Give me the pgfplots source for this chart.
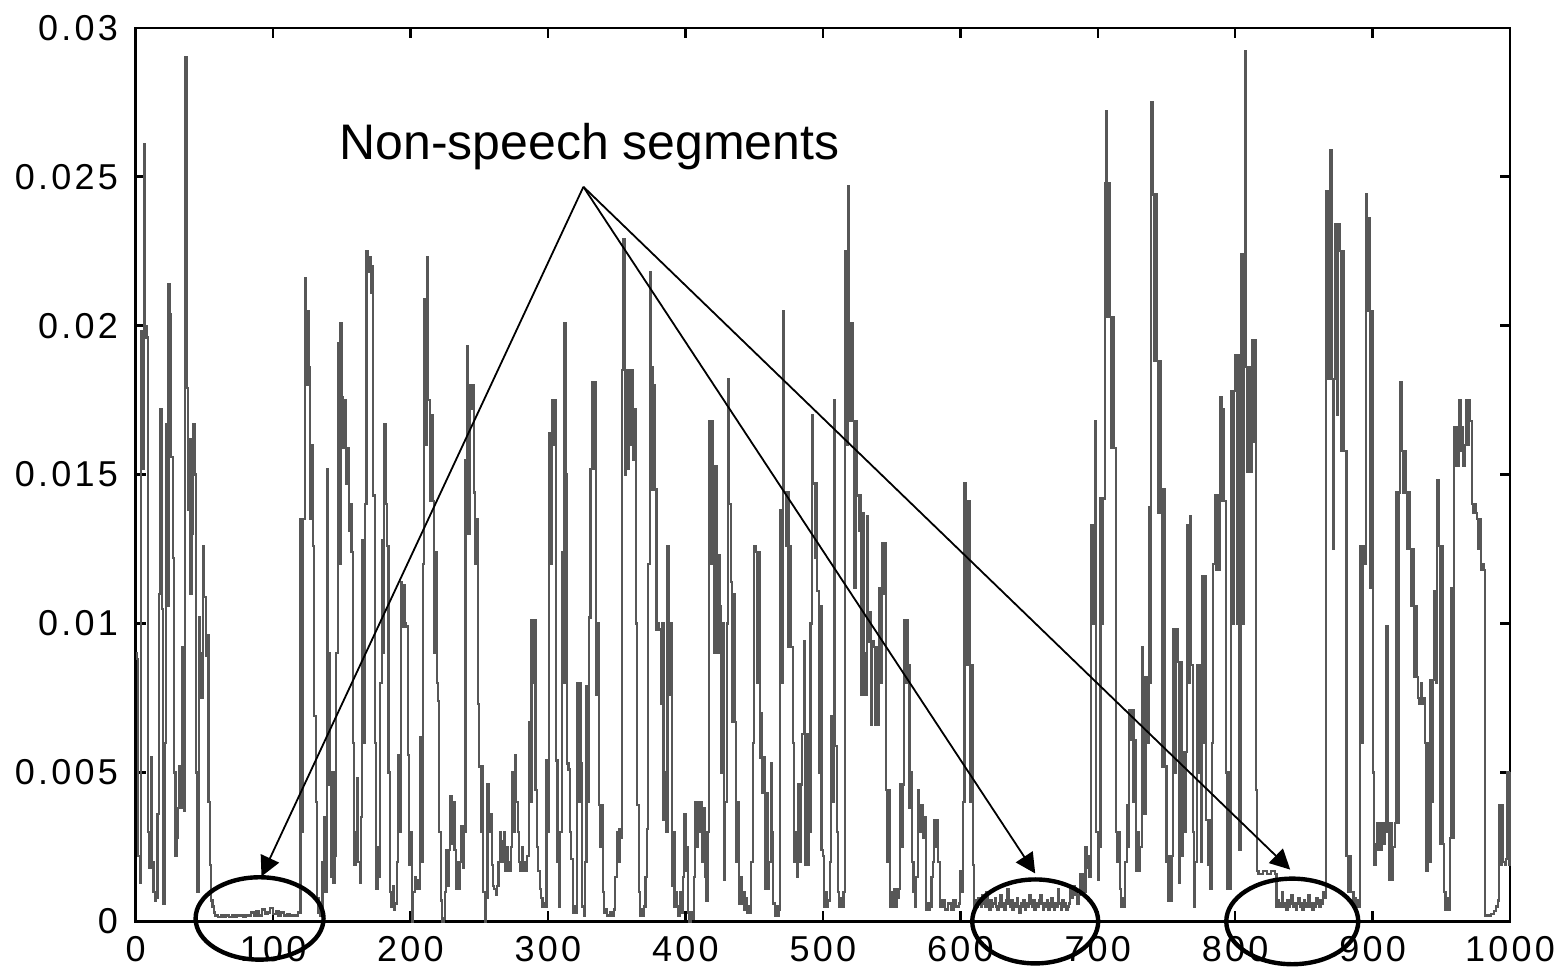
\documentclass[border={3.75pt 1.75pt 1.25pt 3.75pt}]{standalone}
\usepackage{fontspec}
\setmainfont{Liberation Sans}
\newfontfamily\tickfont[LetterSpace=9]{Liberation Sans}
\usepackage{pgfplots}
\usepackage{pgfplotstable}
\pgfplotsset{compat=1.18}
\usetikzlibrary{arrows.meta}

% signal values in units of 1e-3
\pgfplotstableread[row sep=\\]{
x v\\
0 9.0\\ 1 8.8\\ 2 2.2\\ 3 1.3\\ 4 19.8\\ 5 15.2\\ 6 26.1\\ 7 20.0\\ 8 19.6\\ 9 3.0\\
10 1.8\\ 11 5.5\\ 12 2.0\\ 13 1.0\\ 14 0.7\\ 15 0.8\\ 16 3.6\\ 17 11.0\\ 18 17.2\\ 19 10.5\\
20 0.6\\ 21 6.0\\ 22 16.7\\ 23 10.6\\ 24 21.4\\ 25 20.4\\ 26 15.6\\ 27 12.2\\ 28 5.0\\ 29 2.2\\
30 2.8\\ 31 3.8\\ 32 5.2\\ 33 3.8\\ 34 9.2\\ 35 3.7\\ 36 29.0\\ 37 17.9\\ 38 13.8\\ 39 16.2\\
40 11.0\\ 41 13.0\\ 42 16.7\\ 43 15.0\\ 44 5.0\\ 45 1.0\\ 46 10.2\\ 47 9.0\\ 48 7.5\\ 49 12.6\\
50 10.9\\ 51 8.9\\ 52 9.6\\ 53 4.0\\ 54 1.9\\ 55 0.7\\ 56 0.5\\ 57 0.3\\ 58 0.2\\ 60 0.15\\
62 0.2\\ 64 0.15\\ 66 0.2\\ 68 0.15\\ 70 0.2\\ 72 0.15\\ 74 0.2\\ 76 0.2\\ 78 0.15\\ 80 0.2\\
82 0.2\\ 84 0.3\\ 86 0.2\\ 88 0.35\\ 90 0.2\\ 92 0.4\\ 94 0.25\\ 96 0.3\\ 98 0.45\\ 100 0.25\\
102 0.35\\ 104 0.2\\ 106 0.3\\ 108 0.2\\ 110 0.25\\ 112 0.2\\ 114 0.2\\ 116 0.2\\ 118 0.3\\ 119 0.3\\
120 13.5\\ 121 3.0\\ 122 13.5\\ 123 21.6\\ 124 18.0\\ 125 20.5\\ 126 18.6\\ 127 13.5\\ 128 16.0\\ 129 12.6\\
130 6.9\\ 131 4.0\\ 132 0.8\\ 133 0.3\\ 134 0.2\\ 135 0.4\\ 136 2.0\\ 137 3.5\\ 138 1.0\\ 139 15.2\\
140 9.0\\ 141 4.6\\ 142 1.5\\ 143 5.0\\ 144 1.3\\ 145 2.2\\ 146 9.0\\ 147 19.4\\ 148 12.0\\ 149 20.1\\
150 17.6\\ 151 15.9\\ 152 17.5\\ 153 14.7\\ 154 15.9\\ 155 13.1\\ 156 14.0\\ 157 12.4\\ 158 6.0\\ 159 1.9\\
160 3.0\\ 161 4.8\\ 162 2.0\\ 163 1.3\\ 164 3.5\\ 165 12.8\\ 166 6.0\\ 167 14.0\\ 168 22.5\\ 169 21.8\\
170 22.3\\ 171 21.1\\ 172 22.0\\ 173 14.3\\ 174 6.0\\ 175 1.1\\ 176 2.5\\ 177 1.5\\ 178 8.0\\ 179 12.8\\
180 9.0\\ 181 16.7\\ 182 14.0\\ 183 12.6\\ 184 5.0\\ 185 1.0\\ 186 0.5\\ 187 1.2\\ 188 0.4\\ 189 0.6\\
190 2.0\\ 191 5.6\\ 192 3.0\\ 193 11.4\\ 194 9.9\\ 195 11.3\\ 196 10.0\\ 197 9.9\\ 198 5.6\\ 199 1.9\\
200 3.0\\ 201 0.0\\ 202 1.0\\ 203 1.5\\ 204 1.1\\ 205 1.4\\ 206 1.1\\ 207 6.2\\ 208 2.0\\ 209 12.0\\
210 20.9\\ 211 16.0\\ 212 22.3\\ 213 17.5\\ 214 14.1\\ 215 17.0\\ 216 14.1\\ 217 9.0\\ 218 12.4\\ 219 8.0\\
220 7.4\\ 221 3.0\\ 222 0.7\\ 223 0.0\\ 224 0.1\\ 225 1.0\\ 226 2.4\\ 227 1.2\\ 228 2.4\\ 229 4.2\\
230 2.6\\ 231 4.0\\ 232 2.4\\ 233 1.1\\ 234 2.0\\ 235 1.1\\ 236 2.0\\ 237 3.2\\ 238 1.8\\ 239 3.0\\
240 15.5\\ 241 19.3\\ 242 13.0\\ 243 18.0\\ 244 17.2\\ 245 18.0\\ 246 14.4\\ 247 12.0\\ 248 13.5\\ 249 7.3\\
250 5.2\\ 251 3.0\\ 252 5.2\\ 253 1.0\\ 254 0.0\\ 255 0.8\\ 256 4.6\\ 257 3.0\\ 258 3.6\\ 259 1.9\\
260 1.2\\ 261 1.1\\ 262 0.9\\ 263 1.2\\ 264 2.0\\ 265 3.0\\ 266 2.0\\ 267 2.7\\ 268 3.0\\ 269 1.7\\
270 2.5\\ 271 2.0\\ 272 1.7\\ 273 2.5\\ 274 5.0\\ 275 3.0\\ 276 5.6\\ 277 4.0\\ 278 3.0\\ 279 2.0\\
280 1.7\\ 281 2.5\\ 282 1.7\\ 283 2.0\\ 284 1.7\\ 285 2.2\\ 286 6.7\\ 287 4.0\\ 288 10.1\\ 289 8.0\\
290 10.1\\ 291 4.4\\ 292 2.5\\ 293 1.7\\ 294 1.1\\ 295 0.8\\ 296 0.5\\ 297 0.6\\ 298 0.5\\ 299 5.4\\
300 3.0\\ 301 16.4\\ 302 12.0\\ 303 17.5\\ 304 16.0\\ 305 17.5\\ 306 5.4\\ 307 2.0\\ 308 0.5\\ 309 3.0\\
310 12.4\\ 311 8.0\\ 312 20.1\\ 313 15.0\\ 314 5.3\\ 315 5.1\\ 316 3.0\\ 317 2.1\\ 318 0.3\\ 319 0.5\\
320 0.3\\ 321 8.0\\ 322 4.0\\ 323 8.0\\ 324 5.3\\ 325 0.5\\ 326 0.2\\ 327 2.0\\ 328 7.9\\ 329 4.0\\
330 10.2\\ 331 15.2\\ 332 18.1\\ 333 15.2\\ 334 18.1\\ 335 7.6\\ 336 10.0\\ 337 3.9\\ 338 2.5\\ 339 3.9\\
340 1.0\\ 341 0.3\\ 342 0.4\\ 343 0.2\\ 345 0.3\\ 347 0.2\\ 348 0.4\\ 349 1.5\\ 350 3.0\\ 351 2.0\\
352 3.1\\ 353 2.8\\ 354 18.5\\ 355 22.9\\ 356 15.0\\ 357 18.5\\ 358 15.2\\ 359 18.5\\ 360 16.0\\ 361 18.5\\
362 15.5\\ 363 17.2\\ 364 10.0\\ 365 3.9\\ 366 1.0\\ 367 0.2\\ 368 0.4\\ 369 0.2\\ 370 0.5\\ 371 1.5\\
372 3.1\\ 373 12.0\\ 374 21.8\\ 375 18.6\\ 376 14.5\\ 377 18.0\\ 378 14.5\\ 379 9.8\\ 380 10.0\\ 381 9.8\\
382 7.3\\ 383 10.0\\ 384 3.4\\ 385 5.0\\ 386 3.0\\ 387 12.6\\ 388 7.6\\ 389 10.0\\ 390 1.2\\ 391 3.0\\
392 0.5\\ 393 1.0\\ 394 0.5\\ 395 0.2\\ 396 1.0\\ 397 0.3\\ 398 1.5\\ 399 3.6\\ 400 1.7\\ 401 2.5\\
402 0.3\\ 403 0.0\\ 404 0.3\\ 405 0.1\\ 406 1.5\\ 407 4.0\\ 408 2.5\\ 409 4.0\\ 410 3.0\\ 411 4.0\\
412 2.0\\ 413 3.8\\ 414 1.5\\ 415 0.7\\ 416 3.0\\ 417 16.8\\ 418 12.0\\ 419 16.8\\ 420 15.3\\ 421 9.0\\
422 15.3\\ 423 9.0\\ 424 12.3\\ 425 10.6\\ 426 5.0\\ 427 10.0\\ 428 1.4\\ 429 4.0\\ 430 10.0\\ 431 18.2\\
432 14.0\\ 433 11.4\\ 434 6.7\\ 435 11.0\\ 436 6.7\\ 437 2.0\\ 438 4.0\\ 439 0.6\\ 440 1.5\\ 441 0.6\\
442 1.0\\ 443 0.4\\ 444 0.8\\ 445 0.3\\ 446 0.5\\ 447 0.3\\ 448 2.0\\ 449 6.0\\ 450 12.6\\ 451 12.4\\
452 8.0\\ 453 12.4\\ 454 5.5\\ 455 7.0\\ 456 4.3\\ 457 5.5\\ 458 1.1\\ 459 4.3\\ 460 1.1\\ 461 2.0\\
462 5.3\\ 463 3.0\\ 464 0.6\\ 465 0.2\\ 466 0.5\\ 467 0.2\\ 468 0.4\\ 469 13.8\\ 470 8.0\\ 471 20.5\\
472 14.4\\ 473 12.6\\ 474 14.4\\ 475 9.2\\ 476 12.6\\ 477 9.2\\ 478 6.0\\ 479 2.0\\ 480 3.0\\ 481 1.5\\
482 4.6\\ 483 2.0\\ 484 4.6\\ 485 6.3\\ 486 9.4\\ 487 1.9\\ 488 6.3\\ 489 1.9\\ 490 3.0\\ 491 10.0\\
492 17.0\\ 493 14.7\\ 494 12.2\\ 495 14.7\\ 496 11.1\\ 497 5.0\\ 498 10.6\\ 499 2.4\\ 500 2.2\\ 501 0.5\\
502 1.0\\ 503 0.5\\ 504 0.7\\ 505 2.0\\ 506 6.9\\ 507 4.0\\ 508 17.5\\ 509 5.9\\ 510 3.0\\ 511 1.0\\
512 0.5\\ 513 0.8\\ 514 0.5\\ 515 1.0\\ 516 22.5\\ 517 16.0\\ 518 24.7\\ 519 20.1\\ 520 16.8\\ 521 20.1\\
522 16.8\\ 523 11.2\\ 524 16.8\\ 525 14.3\\ 526 13.1\\ 527 14.3\\ 528 7.6\\ 529 13.7\\ 530 9.0\\ 531 7.6\\
532 13.6\\ 533 9.4\\ 534 10.4\\ 535 6.6\\ 536 9.4\\ 537 9.2\\ 538 6.6\\ 539 9.2\\ 540 6.6\\ 541 11.2\\
542 8.0\\ 543 12.7\\ 544 11.0\\ 545 12.7\\ 546 4.4\\ 547 2.0\\ 548 4.4\\ 549 0.5\\ 550 1.0\\ 551 0.5\\
552 1.1\\ 553 0.5\\ 554 0.8\\ 555 1.1\\ 556 4.6\\ 557 2.5\\ 558 4.6\\ 559 10.1\\ 560 8.0\\ 561 10.1\\
562 8.6\\ 563 3.8\\ 564 5.0\\ 565 2.0\\ 566 1.0\\ 567 0.5\\ 568 1.5\\ 569 4.4\\ 570 3.0\\ 571 3.9\\
572 3.9\\ 573 2.8\\ 574 3.5\\ 575 0.4\\ 576 0.6\\ 577 0.4\\ 578 0.5\\ 579 1.5\\ 580 2.0\\ 581 3.4\\
582 2.5\\ 583 3.4\\ 584 2.0\\ 585 0.5\\ 587 0.7\\ 589 0.4\\ 591 0.6\\ 593 0.4\\ 595 0.7\\ 597 0.5\\
599 0.6\\ 600 1.7\\ 601 1.0\\ 602 4.0\\ 603 14.7\\ 604 14.1\\ 605 8.6\\ 606 14.1\\ 607 4.0\\ 608 8.6\\
609 1.9\\ 610 0.5\\ 611 0.7\\ 612 0.5\\ 613 0.8\\ 614 0.6\\ 615 0.5\\ 616 0.9\\ 617 0.6\\ 618 0.5\\
619 1.0\\ 620 0.6\\ 621 0.4\\ 622 0.7\\ 623 0.5\\ 624 0.6\\ 625 0.8\\ 626 0.5\\ 627 0.4\\ 628 0.6\\
629 0.9\\ 630 0.5\\ 631 0.6\\ 632 0.4\\ 633 0.7\\ 634 1.1\\ 635 0.6\\ 636 0.5\\ 637 0.7\\ 638 0.4\\
639 0.6\\ 640 0.5\\ 641 0.8\\ 642 0.5\\ 643 0.3\\ 644 0.6\\ 645 0.5\\ 646 0.7\\ 647 0.4\\ 648 0.6\\
649 0.5\\ 650 0.9\\ 651 0.6\\ 652 0.5\\ 653 0.7\\ 654 0.4\\ 655 0.6\\ 656 0.5\\ 657 0.7\\ 658 0.9\\
659 0.6\\ 660 0.4\\ 661 0.6\\ 662 0.5\\ 663 0.7\\ 664 0.4\\ 665 0.6\\ 666 0.8\\ 667 0.5\\ 668 0.4\\
669 0.6\\ 670 0.5\\ 671 1.1\\ 672 0.6\\ 673 0.4\\ 674 0.7\\ 675 0.5\\ 676 0.6\\ 677 0.4\\ 678 0.5\\
679 0.6\\ 680 1.2\\ 681 0.8\\ 682 1.2\\ 683 0.9\\ 684 1.0\\ 685 0.6\\ 686 0.9\\ 687 1.6\\ 688 1.0\\
689 1.6\\ 690 1.0\\ 691 2.5\\ 692 1.8\\ 693 2.2\\ 694 1.5\\ 695 13.3\\ 696 10.0\\ 697 13.3\\ 698 16.8\\
699 3.0\\ 700 1.4\\ 701 2.5\\ 702 14.2\\ 703 10.0\\ 704 14.2\\ 705 24.8\\ 706 27.2\\ 707 20.3\\ 708 24.8\\
709 20.3\\ 710 15.9\\ 711 20.3\\ 712 15.9\\ 713 3.0\\ 714 2.0\\ 715 3.0\\ 716 1.1\\ 717 0.5\\ 718 0.8\\
719 0.5\\ 720 2.0\\ 721 3.9\\ 722 2.5\\ 723 7.1\\ 724 6.1\\ 725 7.1\\ 726 4.0\\ 727 6.1\\ 728 1.7\\
729 3.0\\ 730 1.7\\ 731 2.5\\ 732 9.2\\ 733 8.2\\ 734 3.6\\ 735 8.2\\ 736 6.0\\ 737 13.9\\ 738 8.0\\
739 27.5\\ 740 24.4\\ 741 18.8\\ 742 24.4\\ 743 18.8\\ 744 13.7\\ 745 18.8\\ 746 14.5\\ 747 5.2\\ 748 14.5\\
749 5.2\\ 750 2.0\\ 751 0.7\\ 752 2.2\\ 753 0.7\\ 754 2.2\\ 755 9.8\\ 756 5.0\\ 757 9.8\\ 758 8.7\\
759 1.3\\ 760 8.7\\ 761 2.2\\ 762 5.7\\ 763 3.0\\ 764 5.7\\ 765 13.3\\ 766 8.0\\ 767 13.6\\ 768 8.6\\
769 3.0\\ 770 0.5\\ 771 2.0\\ 772 8.6\\ 773 5.0\\ 774 8.6\\ 775 2.0\\ 776 11.6\\ 777 6.0\\ 778 11.6\\
779 3.4\\ 780 1.9\\ 781 3.4\\ 782 1.1\\ 783 6.0\\ 784 12.0\\ 785 14.3\\ 786 11.8\\ 787 14.3\\ 788 11.8\\
789 17.6\\ 790 14.1\\ 791 17.2\\ 792 14.1\\ 793 5.0\\ 794 1.1\\ 795 5.0\\ 796 1.1\\ 797 17.8\\ 798 10.0\\
799 17.8\\ 800 19.0\\ 801 10.0\\ 802 19.0\\ 803 2.4\\ 804 22.4\\ 805 10.0\\ 806 22.4\\ 807 29.2\\ 808 18.6\\
809 15.1\\ 810 18.6\\ 811 15.1\\ 812 19.5\\ 813 16.1\\ 814 19.5\\ 815 4.4\\ 816 1.7\\ 817 1.6\\ 820 1.7\\
823 1.6\\ 826 1.7\\ 829 1.6\\ 830 0.5\\ 831 0.7\\ 832 0.5\\ 833 0.6\\ 834 1.0\\ 835 0.5\\ 836 0.6\\
837 0.4\\ 838 0.7\\ 839 0.5\\ 840 0.6\\ 841 0.9\\ 842 0.5\\ 843 0.6\\ 844 0.4\\ 845 0.6\\ 846 0.8\\
847 0.5\\ 848 0.6\\ 849 0.4\\ 850 0.7\\ 851 0.5\\ 852 0.6\\ 853 0.9\\ 854 0.5\\ 855 0.6\\ 856 0.4\\
857 0.6\\ 858 0.5\\ 859 0.8\\ 860 0.6\\ 861 0.5\\ 862 0.7\\ 863 0.6\\ 864 1.0\\ 865 0.8\\ 866 24.5\\
867 18.2\\ 868 24.5\\ 869 25.9\\ 870 18.2\\ 871 12.5\\ 872 18.2\\ 873 23.4\\ 874 17.0\\ 875 23.4\\ 876 22.5\\
877 15.8\\ 878 22.5\\ 879 15.8\\ 880 15.8\\ 881 2.2\\ 882 1.0\\ 883 2.2\\ 884 1.0\\ 885 1.0\\ 886 0.5\\
887 0.8\\ 888 0.5\\ 889 0.7\\ 890 0.5\\ 891 12.6\\ 892 6.0\\ 893 12.6\\ 894 12.0\\ 895 24.4\\ 896 20.5\\
897 23.6\\ 898 11.2\\ 899 20.5\\ 900 5.0\\ 901 1.9\\ 902 2.6\\ 903 3.3\\ 904 2.4\\ 905 3.3\\ 906 2.4\\
907 3.3\\ 908 2.6\\ 909 3.0\\ 910 9.9\\ 911 3.3\\ 912 1.4\\ 913 3.3\\ 914 1.4\\ 915 2.5\\ 916 3.3\\
917 14.4\\ 918 3.3\\ 919 14.4\\ 920 18.1\\ 921 15.8\\ 922 14.4\\ 923 15.8\\ 924 14.4\\ 925 12.5\\ 926 14.4\\
927 12.5\\ 928 10.6\\ 929 12.5\\ 930 8.2\\ 931 10.6\\ 932 8.2\\ 933 7.5\\ 934 7.3\\ 935 8.0\\ 936 7.3\\
937 7.5\\ 938 6.0\\ 939 1.7\\ 940 6.0\\ 941 2.0\\ 942 8.1\\ 943 4.0\\ 944 8.1\\ 945 11.1\\ 946 8.0\\
947 14.8\\ 948 12.6\\ 949 2.6\\ 950 12.6\\ 951 2.6\\ 952 1.0\\ 953 0.4\\ 954 0.8\\ 955 0.4\\ 956 2.8\\
957 11.2\\ 958 2.8\\ 959 16.6\\ 960 15.3\\ 961 16.6\\ 962 15.3\\ 963 17.5\\ 964 15.8\\ 965 16.6\\ 966 15.3\\
967 16.0\\ 968 17.5\\ 969 16.0\\ 970 17.5\\ 971 16.8\\ 972 14.0\\ 973 13.7\\ 974 14.0\\ 975 13.7\\ 976 13.5\\
977 12.5\\ 978 13.5\\ 979 11.8\\ 980 12.0\\ 981 11.8\\ 982 0.2\\ 984 0.2\\ 986 0.25\\ 988 0.35\\ 990 0.5\\
991 0.7\\ 992 3.9\\ 993 1.9\\ 994 3.9\\ 995 2.0\\ 996 1.9\\ 997 2.1\\ 998 5.0\\ 999 1.9\\ 1000 5.0\\
}\sig

\begin{document}
\begin{tikzpicture}
\begin{axis}[
  scale only axis, width=343.75pt, height=223.5pt,
  xmin=0, xmax=1000, ymin=0, ymax=30,
  axis line style={line width=0.6pt},
  tick align=inside, major tick length=2.6pt,
  tick style={black, line width=0.6pt},
  xtick={0,100,...,1000},
  xticklabels={0,100,200,300,400,500,600,700,800,900,1000},
  ytick={0,5,...,30},
  yticklabels={0,0.005,0.01,0.015,0.02,0.025,0.03},
  ticklabel style={font=\tickfont\fontsize{9}{10}\selectfont, inner sep=0pt},
  every x tick label/.append style={yshift=-3.6pt},
  every y tick label/.append style={xshift=-4.2pt},
  clip=false]
\addplot[const plot, color=black!66, line width=0.55pt] table[x=x, y=v] {\sig};

\node[anchor=base, font=\fontsize{12.5}{14}\selectfont] at (axis cs:330.2,25.57) {Non-speech segments};
\draw[line width=0.45pt, -{Triangle[length=5pt, width=5pt]}] (axis cs:325.8,24.66) -- (axis cs:91.6,1.51);
\draw[line width=0.45pt, -{Triangle[length=5pt, width=5pt]}] (axis cs:325.8,24.66) -- (axis cs:654.5,1.61);
\draw[line width=0.45pt, -{Triangle[length=5pt, width=5pt]}] (axis cs:325.8,24.66) -- (axis cs:840,1.74);
\draw[line width=1.1pt] (axis cs:90.2,0.1) ellipse [x radius=16pt, y radius=10.3pt];
\draw[line width=1.1pt] (axis cs:654.5,0) ellipse [x radius=15.75pt, y radius=10.5pt];
\draw[line width=1.1pt] (axis cs:841.5,0) ellipse [x radius=16.5pt, y radius=10.7pt];
\end{axis}
\end{tikzpicture}
\end{document}
